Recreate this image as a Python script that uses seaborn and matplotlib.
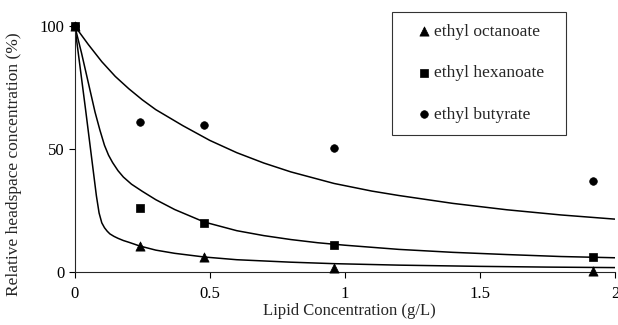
import seaborn as sns
import matplotlib.pyplot as plt

# measured points
lipid = [0, 0.24, 0.48, 0.96, 1.92]
octanoate = [100, 10.5, 6.0, 1.8, 0.6]
hexanoate = [100, 26, 20, 11, 6.2]
butyrate = [100, 60.8, 59.6, 50.3, 37]

# fitted curves
oct_x = [0, 0.02, 0.04, 0.06, 0.08, 0.09, 0.1, 0.11, 0.12, 0.13, 0.145, 0.16, 0.18,
         0.2, 0.24, 0.3, 0.37, 0.48, 0.6, 0.8, 0.96, 1.2, 1.5, 1.75, 2.0]
oct_y = [100, 83, 66, 48.5, 31, 24, 20, 18, 16.6, 15.5, 14.5, 13.7, 12.8, 12.1, 10.6,
         8.9, 7.6, 6.1, 5.0, 4.0, 3.4, 2.8, 2.3, 2.0, 1.8]
hex_x = [0, 0.025, 0.05, 0.075, 0.093, 0.11, 0.125, 0.14, 0.16, 0.18, 0.21, 0.25, 0.3,
         0.37, 0.48, 0.6, 0.7, 0.8, 0.9, 1.0, 1.2, 1.4, 1.6, 1.8, 2.0]
hex_y = [100, 89, 77, 65, 57.7, 51.5, 47.5, 44.5, 41.2, 38.6, 35.7, 32.8, 29.4, 25.4,
         20.3, 16.8, 14.8, 13.2, 11.9, 10.9, 9.2, 8.0, 7.1, 6.3, 5.8]
but_x = [0, 0.05, 0.1, 0.15, 0.2, 0.25, 0.3, 0.4, 0.5, 0.6, 0.7, 0.8, 0.96, 1.1, 1.2,
         1.4, 1.6, 1.8, 2.0]
but_y = [100, 92.5, 85.5, 79.5, 74.5, 70.0, 66.0, 59.5, 53.5, 48.5, 44.3, 40.7, 36.0,
         32.9, 31.1, 27.9, 25.3, 23.2, 21.5]

sns.set_style("ticks")
plt.rcParams["font.family"] = ["Liberation Serif", "DejaVu Serif"]

fig = plt.figure(figsize=(6.18, 3.25), dpi=100)
ax = fig.add_axes([0.121, 0.163, 0.874, 0.757])

curves = [(oct_x, oct_y), (hex_x, hex_y), (but_x, but_y)]
for cx, cy in curves:
    sns.lineplot(x=cx, y=cy, ax=ax, color="black", linewidth=1.1, legend=False)

series = [("ethyl octanoate", octanoate, "^", 44),
          ("ethyl hexanoate", hexanoate, "s", 38),
          ("ethyl butyrate", butyrate, "o", 30)]
for name, vals, mk, sz in series:
    sns.scatterplot(x=lipid, y=vals, ax=ax, marker=mk, s=sz, color="black",
                    edgecolor="black", linewidth=0.5, label=name, zorder=3, clip_on=False)

ax.set_xlim(0, 2)
ax.set_ylim(0, 100)
ax.set_xticks([0, 0.5, 1, 1.5, 2])
ax.set_xticklabels(["0", "0.5", "1", "1.5", "2"])
ax.set_yticks([0, 50, 100])
sns.despine(ax=ax)
for s in ["left", "bottom"]:
    ax.spines[s].set_linewidth(0.8)
ax.tick_params(labelsize=12, width=0.8, length=4, colors="black")
ax.tick_params(axis="x", pad=6)
ax.set_xlabel("Lipid Concentration (g/L)", fontsize=12)
ax.set_ylabel("Relative headspace concentration (%)", fontsize=12.5)
ax.xaxis.set_label_coords(0.509, -0.125)
ax.yaxis.set_label_coords(-0.098, 0.44)

leg = ax.legend(loc="upper left", bbox_to_anchor=(0.587, 1.058, 0.322, 0.0),
                mode="expand", frameon=True, fancybox=False, edgecolor="black",
                fontsize=12.5, labelspacing=1.45, borderpad=0.7,
                handlelength=2.3, handletextpad=-0.6, borderaxespad=0)
leg.get_frame().set_linewidth(0.8)

fig.savefig("out.png", dpi=100)
